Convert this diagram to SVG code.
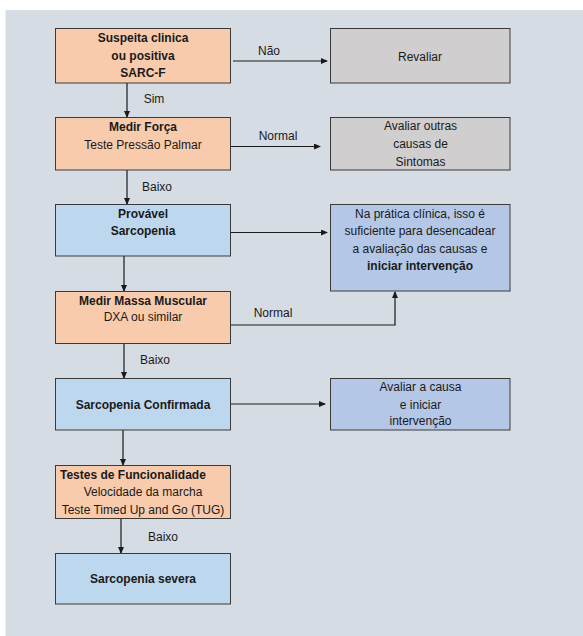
<svg xmlns="http://www.w3.org/2000/svg" width="583" height="636" viewBox="0 0 583 636">
<defs>
<marker id="ah" markerWidth="7" markerHeight="6" refX="6" refY="3" orient="auto" markerUnits="userSpaceOnUse">
<path d="M0,0 L7,3 L0,6 Z" fill="#1a1a1a"/>
</marker>
<style>
.bg{fill:#D6DCE4}
.box{stroke:#3a3a3a;stroke-width:1}
.or{fill:#F8CBAD}
.gr{fill:#D0CECE}
.lb{fill:#BDD7EE}
.pb{fill:#B4C7E7}
text{font-family:"Liberation Sans",Arial,sans-serif;font-size:12px;fill:#1a1a1a;text-anchor:middle}
.b{font-weight:bold}
.l{text-anchor:start}
.c{fill:none;stroke:#1a1a1a;stroke-width:1.2;marker-end:url(#ah)}
.cn{fill:none;stroke:#1a1a1a;stroke-width:1.2}
</style>
</defs>
<rect x="0" y="0" width="583" height="636" fill="#ffffff"/>
<rect class="bg" x="5.5" y="10" width="578" height="626"/>

<g id="connectors">
<line class="c" x1="233" y1="61" x2="327" y2="61"/>
<text x="269" y="55">Não</text>
<line class="c" x1="127" y1="83" x2="127" y2="117"/>
<text x="154" y="103">Sim</text>
<line class="c" x1="231" y1="146.5" x2="320" y2="146.5"/>
<text x="278" y="140">Normal</text>
<line class="c" x1="127" y1="170" x2="127" y2="204"/>
<text x="157" y="191">Baixo</text>
<line class="c" x1="231" y1="232.5" x2="327" y2="232.5"/>
<line class="c" x1="124" y1="256" x2="124" y2="291"/>
<polyline class="c" points="231,325 395,325 395,292"/>
<text x="273" y="317">Normal</text>
<line class="c" x1="124" y1="343" x2="124" y2="378"/>
<text x="155" y="364">Baixo</text>
<line class="c" x1="231" y1="404" x2="325" y2="404"/>
<line class="c" x1="123" y1="430" x2="123" y2="465"/>
<line class="c" x1="121" y1="518" x2="121" y2="553"/>
<text x="163" y="541">Baixo</text>
</g>

<g id="n1">
<rect class="box or" x="55.5" y="28.5" width="175" height="54.5"/>
<text class="b" x="143" y="42">Suspeita clinica</text>
<text class="b" x="143" y="59.5">ou positiva</text>
<text class="b" x="143" y="77">SARC-F</text>
</g>
<g id="n2">
<rect class="box gr" x="330.5" y="28.5" width="179.5" height="54.5"/>
<text x="420" y="61">Revaliar</text>
</g>
<g id="n3">
<rect class="box or" x="55.5" y="117.5" width="175" height="52.5"/>
<text class="b" x="143" y="131">Medir Força</text>
<text x="143" y="148.5">Teste Pressão Palmar</text>
</g>
<g id="n4">
<rect class="box gr" x="330.5" y="117.5" width="179.5" height="52.5"/>
<text x="420.5" y="130">Avaliar outras</text>
<text x="420.5" y="148">causas de</text>
<text x="420.5" y="165.5">Sintomas</text>
</g>
<g id="n5">
<rect class="box lb" x="55.5" y="204.5" width="175" height="51.5"/>
<text class="b" x="143" y="217.5">Provável</text>
<text class="b" x="143" y="235">Sarcopenia</text>
</g>
<g id="n6">
<rect class="box pb" x="330.5" y="204.5" width="179.5" height="86.5"/>
<text x="420" y="217.5">Na prática clínica, isso é</text>
<text x="420" y="235">suficiente para desencadear</text>
<text x="420" y="252.5">a avaliação das causas e</text>
<text class="b" x="420" y="269.5">iniciar intervenção</text>
</g>
<g id="n7">
<rect class="box or" x="55.5" y="291.5" width="175" height="52"/>
<text class="b" x="143" y="304.5">Medir Massa Muscular</text>
<text x="143" y="321">DXA ou similar</text>
</g>
<g id="n8">
<rect class="box lb" x="55.5" y="378.5" width="175" height="51.5"/>
<text class="b" x="143" y="408.5">Sarcopenia Confirmada</text>
</g>
<g id="n9">
<rect class="box pb" x="330.5" y="378.5" width="179.5" height="51.5"/>
<text x="420.5" y="391">Avaliar a causa</text>
<text x="420.5" y="408.5">e iniciar</text>
<text x="420.5" y="425">intervenção</text>
</g>
<g id="n10">
<rect class="box or" x="55.5" y="465.5" width="175" height="53"/>
<text class="b l" x="60" y="478.5">Testes de Funcionalidade</text>
<text x="143" y="495.5">Velocidade da marcha</text>
<text x="143" y="513.5">Teste Timed Up and Go (TUG)</text>
</g>
<g id="n11">
<rect class="box lb" x="55.5" y="553.5" width="175" height="50.5"/>
<text class="b" x="143" y="583">Sarcopenia severa</text>
</g>
</svg>
